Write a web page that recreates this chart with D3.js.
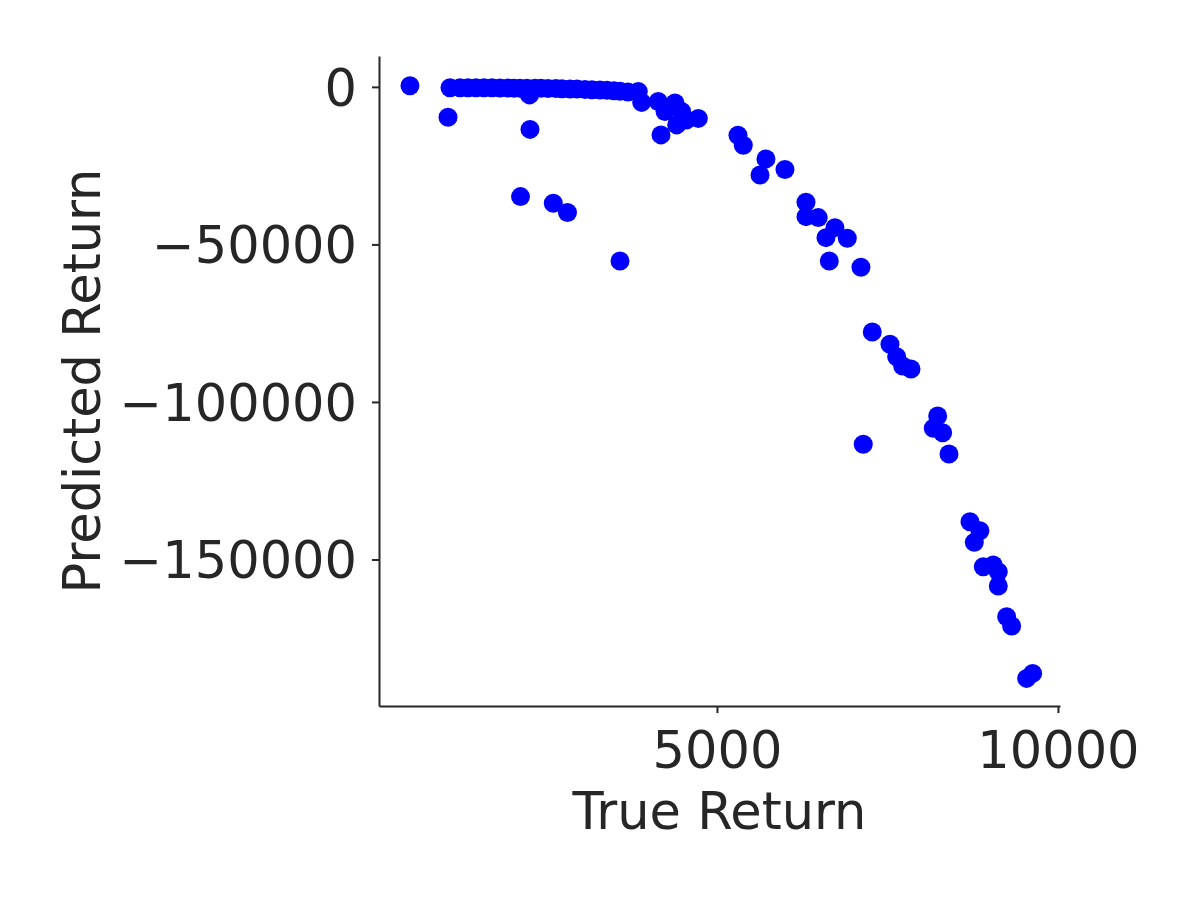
<!DOCTYPE html>
<html>
<head>
<meta charset="utf-8">
<script src="https://cdn.jsdelivr.net/npm/d3@7"></script>
<style>
  body { margin: 0; background: #fff; }
  svg { display: block; }
</style>
</head>
<body>
<svg id="chart" width="1196" height="897"></svg>
<script>
// true return (x) vs predicted return (y)
var trueReturn = [
    498, 1085, 1232, 1349, 1466, 1584, 1701, 1818, 1936, 2023, 2111, 2214,
    2331, 2419, 2522, 2639, 2727, 2844, 2947, 3064, 3167, 3284, 3387, 3490,
    3578, 3695, 1056, 2251, 2258, 2119, 2600, 2808, 3578, 3846, 3896, 4139,
    4238, 4384, 4482, 4409, 4726, 4179, 4556, 5308, 5386, 5718, 5631, 5997,
    6305, 6305, 6485, 6730, 6598, 6911, 6647, 7111, 7277, 7537, 7635, 7723,
    7845, 7145, 8236, 8172, 8309, 8402, 8710, 8856, 8773, 8905, 9051, 9125,
    9125, 9248, 9321, 9541, 9629
];
var predictedReturn = [
    350, -250, -250, -250, -300, -300, -300, -350, -350, -400, -400, -400,
    -400, -450, -500, -550, -600, -700, -700, -800, -900, -1000, -1100, -1250,
    -1400, -1600, -9620, -2540, -13494, -34830, -36925, -39846, -55245, -1492, -4921, -4667,
    -7842, -5080, -7842, -12065, -10001, -15240, -10478, -15335, -18510, -22860, -27940, -26194,
    -36608, -41180, -41497, -44672, -47847, -48038, -55245, -57245, -77788, -81693, -85630, -88583,
    -89535, -113443, -104458, -108363, -109760, -116523, -138017, -140875, -144558, -152305, -151765, -153892,
    -158433, -168180, -171133, -187738, -186150
];
var xTicks = [5000, 10000];
var yTicks = [0, -50000, -100000, -150000];

(function () {
    var points = trueReturn.map(function (x, i) { return [x, predictedReturn[i]]; });

    var svg = d3.select("svg#chart");
    var ink = "#262626";
    var fontFamily = "'DejaVu Sans', sans-serif";
    var fontSize = "51px";

    // plot box in pixels
    var pL = 379, pR = 1060, pT = 56, pB = 706;

    var x = d3.scaleLinear().domain([44, 10030]).range([pL, pR]);
    var y = d3.scaleLinear().domain([-196500, 9800]).range([pB, pT]);

    var minus = function (v) { return String(v).replace("-", "\u2212"); };

    var xAxis = svg.append("g")
        .attr("transform", "translate(0," + pB + ")")
        .call(d3.axisBottom(x).tickValues(xTicks).tickFormat(minus)
            .tickSize(7).tickSizeOuter(0).tickPadding(19));

    var yAxis = svg.append("g")
        .attr("transform", "translate(" + pL + ",0)")
        .call(d3.axisLeft(y).tickValues(yTicks).tickFormat(minus)
            .tickSize(7).tickSizeOuter(0).tickPadding(15));

    [xAxis, yAxis].forEach(function (g) {
        g.select(".domain").attr("stroke", ink).attr("stroke-width", 2);
        g.selectAll(".tick line").attr("stroke", ink).attr("stroke-width", 2);
        g.selectAll(".tick text")
            .attr("fill", ink)
            .style("font-family", fontFamily)
            .style("font-size", fontSize);
    });
    yAxis.selectAll(".tick text").attr("dy", "0.36em");

    // points
    svg.append("g")
        .selectAll("circle")
        .data(points)
        .enter().append("circle")
        .attr("cx", function (d) { return x(d[0]); })
        .attr("cy", function (d) { return y(d[1]); })
        .attr("r", 9.5)
        .attr("fill", "#0000ff");

    // axis titles
    svg.append("text")
        .attr("x", (pL + pR) / 2)
        .attr("y", 829)
        .attr("text-anchor", "middle")
        .attr("fill", ink)
        .style("font-family", fontFamily)
        .style("font-size", fontSize)
        .text("True Return");

    svg.append("text")
        .attr("transform", "translate(100," + ((pT + pB) / 2) + ") rotate(-90)")
        .attr("text-anchor", "middle")
        .attr("fill", ink)
        .style("font-family", fontFamily)
        .style("font-size", fontSize)
        .text("Predicted Return");
})();
</script>
</body>
</html>
